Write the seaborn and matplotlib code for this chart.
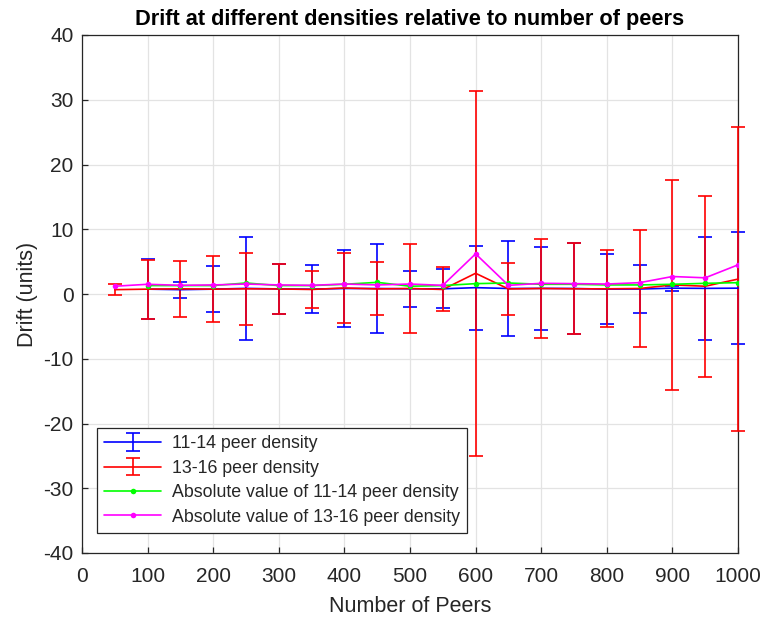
import numpy as np
import pandas as pd
import matplotlib
matplotlib.use("Agg")
import matplotlib.pyplot as plt
import seaborn as sns

# Number of peers for each series
peers_1316 = [50, 100, 150, 200, 250, 300, 350, 400, 450, 500,
              550, 600, 650, 700, 750, 800, 850, 900, 950, 1000]
peers_1114 = [100, 150, 200, 250, 300, 350, 400, 450, 500,
              550, 600, 650, 700, 750, 800, 850, 900, 950, 1000]

# 11-14 peer density: mean drift and standard deviation
drift_1114 = [0.75, 0.67, 0.75, 0.87, 0.78, 0.75, 0.85, 0.85, 0.80,
              0.80, 0.98, 0.85, 0.87, 0.85, 0.75, 0.77, 0.90, 0.87, 0.90]
err_1114 = [4.65, 1.23, 3.55, 7.90, 3.90, 3.75, 5.90, 6.85, 2.80,
            3.00, 6.50, 7.35, 6.45, 7.05, 5.45, 3.75, 0.40, 7.95, 8.60]

# 13-16 peer density: mean drift and standard deviation
drift_1316 = [0.67, 0.75, 0.80, 0.75, 0.80, 0.78, 0.70, 0.93, 0.78, 0.85,
              0.70, 3.20, 0.78, 0.85, 0.80, 0.80, 0.85, 1.40, 1.20, 2.30]
err_1316 = [0.83, 4.55, 4.30, 5.05, 5.60, 3.90, 2.90, 5.35, 4.10, 6.85,
            3.40, 28.20, 3.95, 7.70, 7.00, 5.95, 9.05, 16.20, 14.00, 23.50]

# Mean of absolute drift
abs_1114 = [1.30, 1.30, 1.30, 1.70, 1.30, 1.30, 1.50, 1.80, 1.20,
            1.30, 1.60, 1.70, 1.50, 1.50, 1.40, 1.40, 1.50, 1.65, 1.75]
abs_1316 = [1.20, 1.50, 1.34, 1.40, 1.54, 1.40, 1.34, 1.54, 1.40, 1.54,
            1.34, 6.20, 1.34, 1.65, 1.60, 1.54, 1.75, 2.70, 2.50, 4.50]

sns.set_style("whitegrid")
plt.rcParams["font.family"] = ["Liberation Sans", "DejaVu Sans"]
plt.rcParams["axes.unicode_minus"] = False

fig = plt.figure(figsize=(7.65, 6.19), dpi=100)
ax = fig.add_axes([82 / 765, 1 - 553 / 619, 656 / 765, 518 / 619])

dark = "#262626"
ax.errorbar(peers_1114, drift_1114, yerr=err_1114, color=(0, 0, 1),
            lw=1.2, capsize=4.7, capthick=1.2, clip_on=False, zorder=3,
            label="11-14 peer density")
ax.errorbar(peers_1316, drift_1316, yerr=err_1316, color=(1, 0, 0),
            lw=1.2, capsize=4.7, capthick=1.2, clip_on=False, zorder=3,
            label="13-16 peer density")

df_a = pd.DataFrame({"peers": peers_1114, "drift": abs_1114})
df_b = pd.DataFrame({"peers": peers_1316, "drift": abs_1316})
sns.lineplot(data=df_a, x="peers", y="drift", ax=ax, color=(0, 1, 0),
             lw=1.2, marker="o", markersize=4, markeredgewidth=0, zorder=4,
             label="Absolute value of 11-14 peer density")
sns.lineplot(data=df_b, x="peers", y="drift", ax=ax, color=(1, 0, 1),
             lw=1.2, marker="o", markersize=4, markeredgewidth=0, zorder=4,
             label="Absolute value of 13-16 peer density")

ax.set_xlim(0, 1000)
ax.set_ylim(-40, 40)
ax.set_xticks(np.arange(0, 1001, 100))
ax.set_yticks(np.arange(-40, 41, 10))
ax.grid(True, color="#e3e3e3", lw=0.9)
ax.set_axisbelow(True)
for s in ax.spines.values():
    s.set_color(dark)
    s.set_linewidth(0.9)
    s.set_visible(True)
ax.tick_params(axis="both", direction="in", length=4, width=0.9,
               colors=dark, labelsize=15, labelcolor=dark)
ax.tick_params(axis="x", pad=10)
ax.tick_params(axis="y", pad=6)
ax.tick_params(top=False, right=False, bottom=True, left=True)

ax.set_title("Drift at different densities relative to number of peers",
             fontsize=15.7, fontweight="bold", color="black", pad=7)
ax.set_xlabel("Number of Peers", fontsize=15.5, color=dark, labelpad=7)
ax.set_ylabel("Drift (units)", fontsize=15.5, color=dark, labelpad=4)

handles, labels = ax.get_legend_handles_labels()
order = [labels.index(n) for n in ["11-14 peer density", "13-16 peer density",
                                   "Absolute value of 11-14 peer density",
                                   "Absolute value of 13-16 peer density"]]
leg = ax.legend([handles[i] for i in order], [labels[i] for i in order],
                loc="lower left", bbox_to_anchor=(0.023, 0.039),
                borderaxespad=0, fontsize=12.8, frameon=True, fancybox=False,
                framealpha=1, edgecolor=dark, handlelength=3.2,
                handletextpad=0.6, borderpad=0.4, labelspacing=0.42)
leg.set_zorder(6)
leg.get_frame().set_linewidth(0.9)
for t in leg.get_texts():
    t.set_color(dark)

fig.savefig("out.png", dpi=100)
